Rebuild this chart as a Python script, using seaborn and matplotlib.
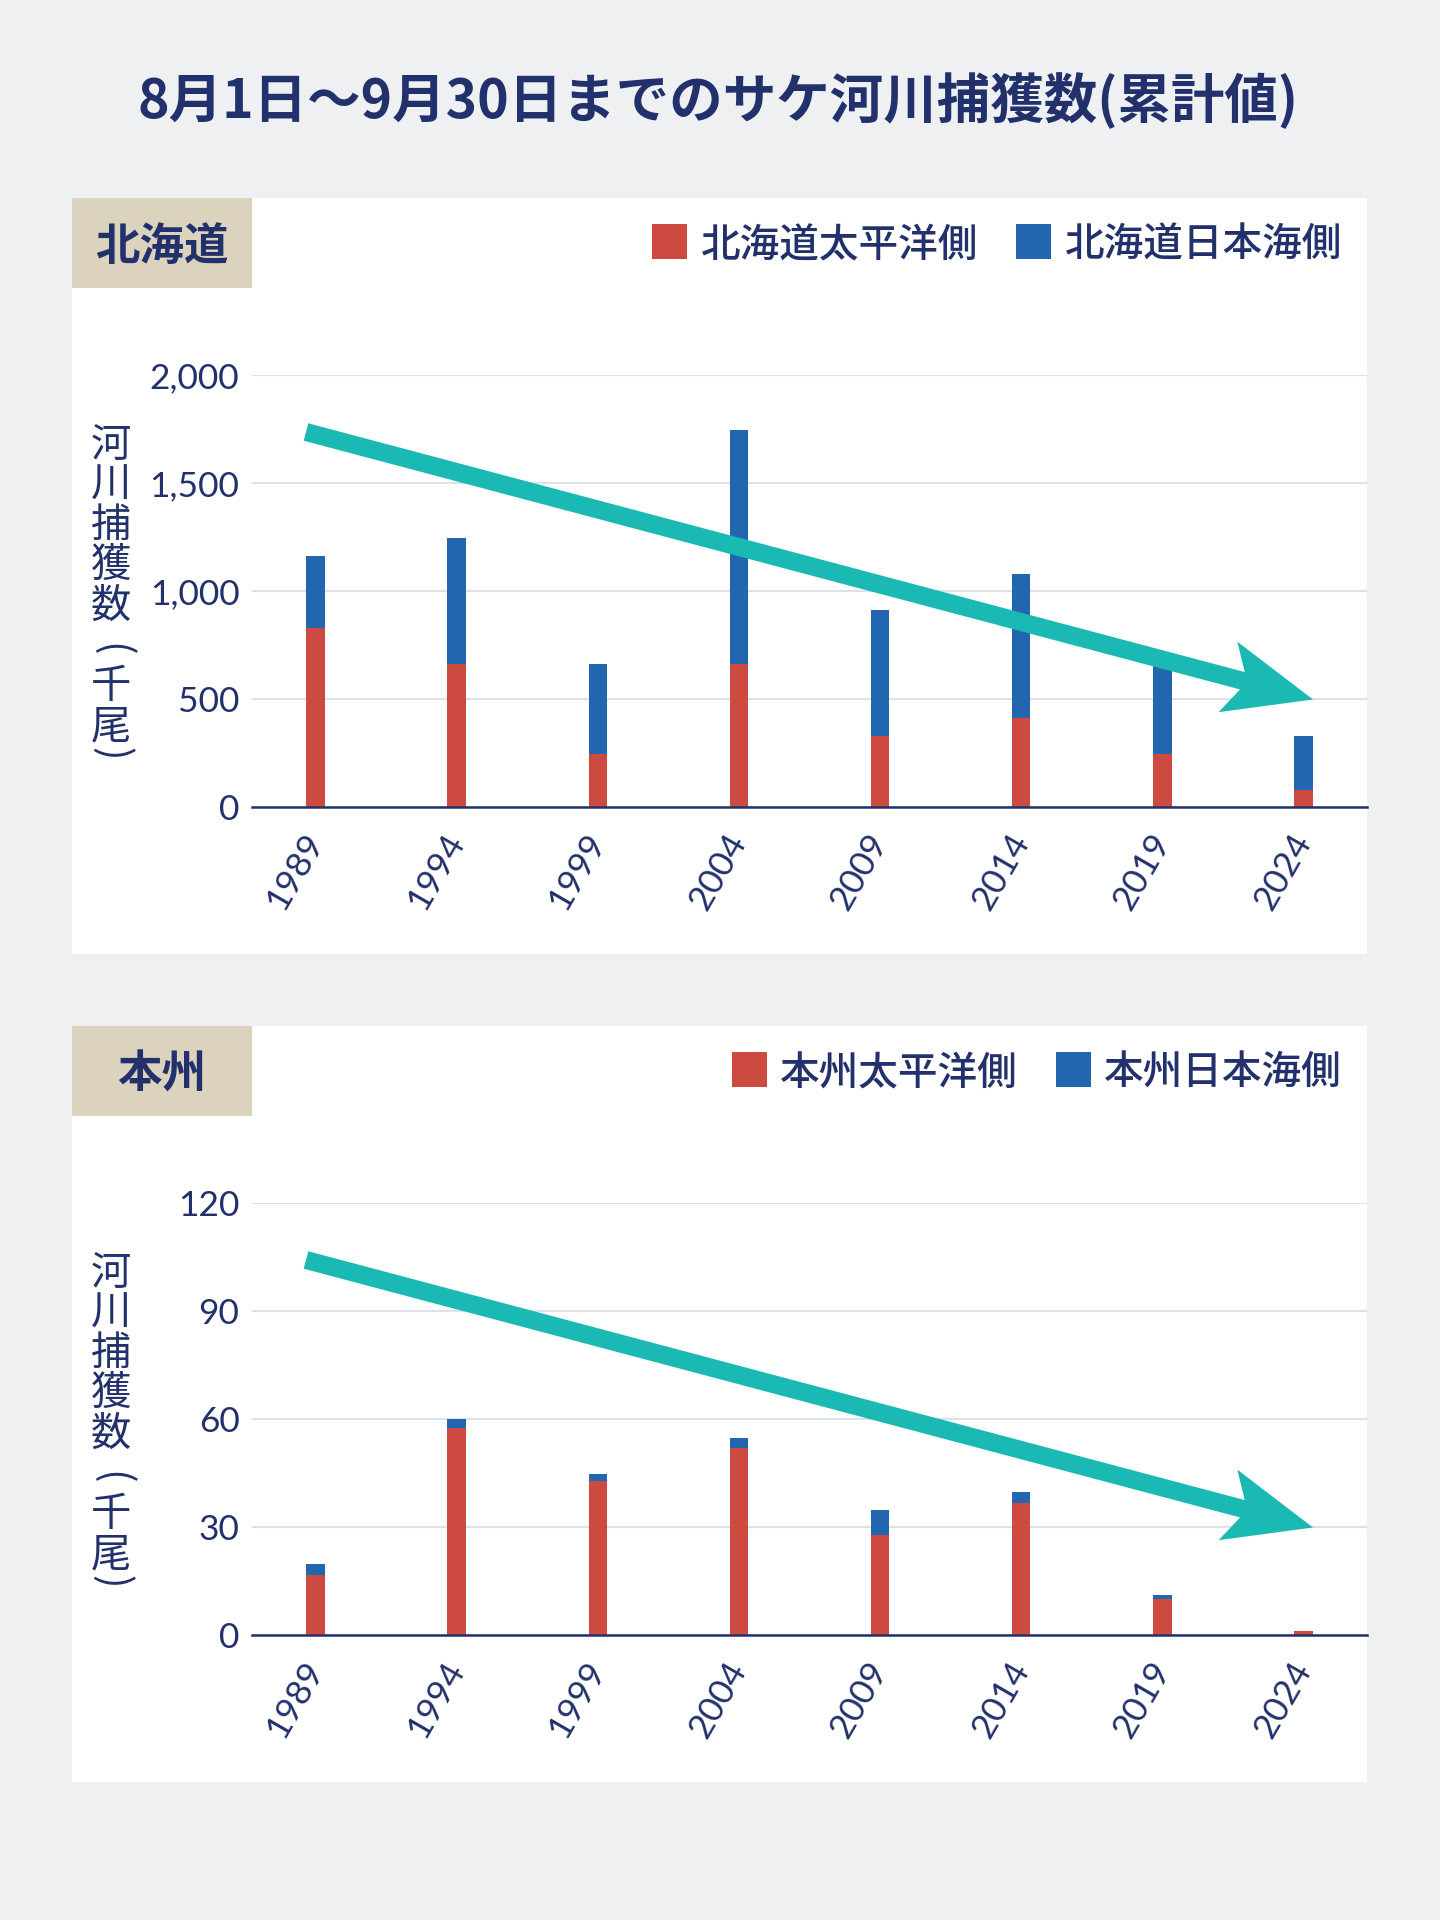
import numpy as np
import pandas as pd
import matplotlib
matplotlib.use("Agg")
import matplotlib.pyplot as plt
from matplotlib.patches import Rectangle, FancyArrow
import seaborn as sns

# ---------------- data ----------------
years = ["1989", "1994", "1999", "2004", "2009", "2014", "2019", "2024"]
hokkaido_pacific = [830, 660, 245, 660, 330, 410, 245, 80]
hokkaido_japan_sea = [330, 585, 417, 1085, 580, 667, 425, 249]
honshu_pacific = [16.8, 57.5, 42.9, 51.9, 27.9, 36.8, 10.1, 1.2]
honshu_japan_sea = [2.8, 2.6, 1.7, 2.7, 6.7, 2.8, 1.1, 0.0]

hokkaido_ticks = [0, 500, 1000, 1500, 2000]
honshu_ticks = [0, 30, 60, 90, 120]

title = "8月1日〜9月30日までのサケ河川捕獲数(累計値)"
panel_names = ["北海道", "本州"]
legend_hokkaido = ["北海道太平洋側", "北海道日本海側"]
legend_honshu = ["本州太平洋側", "本州日本海側"]
ylabel_chars = ["河", "川", "捕", "獲", "数", "(", "千", "尾", ")"]

# ---------------- style ----------------
BG = "#eef0f2"
NAVY = "#22316b"
RED = "#cc4a3f"
BLUE = "#2166ae"
TEAL = "#1bb9b3"
BEIGE = "#dbd3be"
GRID = "#dfe1ea"
CJK = ["Noto Sans CJK JP", "DejaVu Sans"]
NUM = ["Lato", "DejaVu Sans"]

sns.set_theme(style="white")
plt.rcParams["font.family"] = CJK

W, H = 1440, 1920
fig = plt.figure(figsize=(W / 100, H / 100), dpi=100, facecolor=BG)


def fx(x):
    return x / W


def fy(y):
    return 1 - y / H


fig.text(fx(718), fy(102), title, ha="center", va="center", fontsize=38.5,
         fontweight="bold", color=NAVY, family=CJK)

panels = [
    dict(off=0, pac=hokkaido_pacific, sea=hokkaido_japan_sea, ticks=hokkaido_ticks,
         name=panel_names[0], legend=legend_hokkaido,
         leg_x=[(652, 701), (1016, 1065)]),
    dict(off=828, pac=honshu_pacific, sea=honshu_japan_sea, ticks=honshu_ticks,
         name=panel_names[1], legend=legend_honshu,
         leg_x=[(732, 780), (1056, 1104)]),
]

for p in panels:
    off = p["off"]
    # white panel
    fig.add_artist(Rectangle((fx(72), fy(954 + off)), (1367 - 72) / W, 756 / H,
                             transform=fig.transFigure, facecolor="white",
                             edgecolor="none", zorder=-2))
    # beige label box
    fig.add_artist(Rectangle((fx(72), fy(288 + off)), (252 - 72) / W, 90 / H,
                             transform=fig.transFigure, facecolor=BEIGE,
                             edgecolor="none", zorder=-1))
    fig.text(fx(162), fy(247 + off), p["name"], ha="center", va="center",
             fontsize=32, fontweight="bold", color=NAVY, family=CJK)
    # legend
    for (sq_x, tx_x), col, lab in zip(p["leg_x"], [RED, BLUE], p["legend"]):
        fig.add_artist(Rectangle((fx(sq_x), fy(259 + off)), 35 / W, 35 / H,
                                 transform=fig.transFigure, facecolor=col,
                                 edgecolor="none", zorder=3))
        fig.text(fx(tx_x), fy(246 + off), lab, ha="left", va="center",
                 fontsize=28.5, fontweight="medium", color=NAVY, family=CJK)
    # y label (vertical writing)
    for i, ch in enumerate(ylabel_chars):
        if ch in ("(", ")"):
            cy = (650 if ch == "(" else 754) + off
            fig.text(fx(111), fy(cy), ch, ha="center", va="center",
                     rotation=-90, fontsize=29, color=NAVY, family=CJK)
        else:
            base = 421 + off + i * 40.3 + 35.5
            fig.text(fx(111), fy(base), ch, ha="center", va="baseline",
                     fontsize=29, color=NAVY, family=CJK)

    # axes
    ax = fig.add_axes([fx(252), fy(807 + off), 1115 / W, 432 / H])
    ax.set_zorder(1)
    ax.set_facecolor("none")
    df = pd.DataFrame({"year": years, "pacific": p["pac"],
                       "total": np.add(p["pac"], p["sea"])})
    sns.barplot(data=df, x="year", y="total", color=BLUE, width=0.13,
                saturation=1, errorbar=None, linewidth=0, ax=ax, zorder=2)
    sns.barplot(data=df, x="year", y="pacific", color=RED, width=0.13,
                saturation=1, errorbar=None, linewidth=0, ax=ax, zorder=2)
    ax.set_xlim(-0.45, 7.45)
    ax.set_ylim(0, p["ticks"][-1])
    ax.set_yticks(p["ticks"])
    ax.set_yticklabels([f"{t:,}" for t in p["ticks"]])
    ax.set_xlabel("")
    ax.set_ylabel("")
    ax.grid(axis="y", color=GRID, linewidth=1.5)
    ax.grid(axis="x", visible=False)
    ax.set_axisbelow(True)
    for s in ["top", "right", "left"]:
        ax.spines[s].set_visible(False)
    ax.spines["bottom"].set_color(NAVY)
    ax.spines["bottom"].set_linewidth(1.8)
    ax.spines["bottom"].set_zorder(3)
    ax.tick_params(axis="both", length=0, labelsize=25.5, colors=NAVY)
    ax.tick_params(axis="y", pad=9)
    ax.tick_params(axis="x", pad=21)
    for lab in ax.get_yticklabels():
        lab.set_family(NUM)
    for lab in ax.get_xticklabels():
        lab.set_family(NUM)
        lab.set_rotation(60)
        lab.set_ha("right")
        lab.set_va("center")
        lab.set_rotation_mode("anchor")

    # trend arrow (decoration), in inches
    x0, y0 = 306 / 100, (H - 432 - off) / 100
    x1, y1 = 1313 / 100, (H - 699.5 - off) / 100
    fig.add_artist(FancyArrow(x0, y0, x1 - x0, y1 - y0, width=0.18,
                              head_width=0.73, head_length=0.88, overhang=0.17,
                              length_includes_head=True, color=TEAL,
                              linewidth=0, transform=fig.dpi_scale_trans,
                              zorder=5))

fig.savefig("out.png", dpi=100, facecolor=BG)
